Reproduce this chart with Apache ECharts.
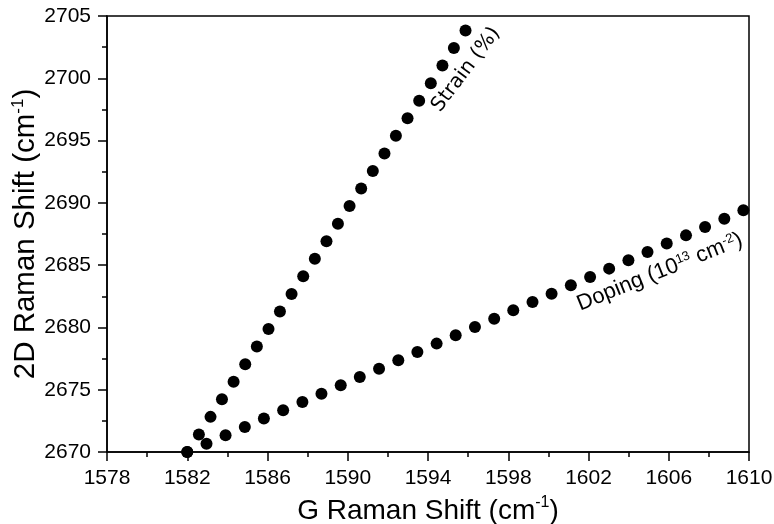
<!DOCTYPE html>
<html><head><meta charset="utf-8">
<script src="https://cdn.jsdelivr.net/npm/echarts@6/dist/echarts.min.js"></script>
<style>html,body{margin:0;padding:0;background:#fff}#c{width:774px;height:524px}</style>
</head><body><div id="c"></div>
<script>
// G Raman shift (cm-1) and 2D Raman shift (cm-1) of the strain line
const strainG = [1582.00,1582.58,1583.16,1583.73,1584.31,1584.89,1585.47,1586.05,1586.62,1587.20,1587.78,1588.36,1588.94,1589.51,1590.09,1590.67,1591.25,1591.83,1592.40,1592.98,1593.56,1594.14,1594.72,1595.29,1595.87];
const strain2D = [2670.00,2671.41,2672.82,2674.23,2675.64,2677.05,2678.46,2679.87,2681.28,2682.69,2684.10,2685.51,2686.92,2688.33,2689.74,2691.15,2692.56,2693.97,2695.38,2696.79,2698.20,2699.61,2701.02,2702.43,2703.84];
// doping line
const dopingG = [1582.00,1582.96,1583.91,1584.87,1585.82,1586.78,1587.74,1588.69,1589.65,1590.60,1591.56,1592.52,1593.47,1594.43,1595.38,1596.34,1597.30,1598.25,1599.21,1600.16,1601.12,1602.08,1603.03,1603.99,1604.94,1605.90,1606.86,1607.81,1608.77,1609.72];
const doping2D = [2670.00,2670.67,2671.34,2672.01,2672.68,2673.35,2674.01,2674.68,2675.35,2676.02,2676.69,2677.36,2678.03,2678.70,2679.37,2680.04,2680.70,2681.37,2682.04,2682.71,2683.38,2684.05,2684.72,2685.39,2686.06,2686.73,2687.39,2688.06,2688.73,2689.40];
// tick labels
const xTicks = [1578,1582,1586,1590,1594,1598,1602,1606,1610];
const yTicks = [2670,2675,2680,2685,2690,2695,2700,2705];
// annotation anchors (data coordinates)
const strainLabel = {text: 'Strain (%)', at: [1595.9, 2700.7], angle: 53};
const dopingLabel = {text: 'Doping (10{sup|13} cm{sup|-2})', at: [1605.55, 2684.45], angle: 22};

const FONT = '"Liberation Sans", Arial, sans-serif';
const chart = echarts.init(document.getElementById('c'), null, {renderer: 'canvas'});
const sup = {fontSize: 16, verticalAlign: 'top', lineHeight: 16, fontFamily: FONT, color: '#000'};

function axisCommon(ticks, margin) {
  return {
    min: ticks[0], max: ticks[ticks.length - 1], interval: ticks[1] - ticks[0],
    axisLine: {show: true, lineStyle: {color: '#000', width: 1.5}},
    axisTick: {show: true, inside: false, length: 9, lineStyle: {color: '#000', width: 1.5}},
    minorTick: {show: true, splitNumber: 2, length: 5, lineStyle: {color: '#000', width: 1.5}},
    splitLine: {show: false},
    nameMoveOverlap: false,
    axisLabel: {color: '#000', fontSize: 21, fontFamily: FONT, margin: margin, formatter: v => String(v)}
  };
}

chart.setOption({
  animation: false,
  backgroundColor: '#fff',
  grid: {left: 107, right: 25, top: 16, bottom: 72, show: true, borderColor: '#000', borderWidth: 1.5,
         containLabel: false, outerBoundsMode: 'none'},
  xAxis: Object.assign(axisCommon(xTicks, 16), {
    type: 'value',
    name: 'G Raman Shift (cm{sup|-1})',
    nameLocation: 'middle', nameGap: 43,
    nameTextStyle: {color: '#000', fontSize: 28, fontFamily: FONT, lineHeight: 32, rich: {sup: sup}}
  }),
  yAxis: Object.assign(axisCommon(yTicks, 16), {
    type: 'value',
    name: '2D Raman Shift (cm{sup|-1})',
    nameLocation: 'middle', nameGap: 65, nameRotate: 90,
    nameTextStyle: {color: '#000', fontSize: 29.5, fontFamily: FONT, lineHeight: 32, rich: {sup: Object.assign({}, sup, {fontSize: 17, lineHeight: 17})}}
  }),
  series: [
    {type: 'scatter', name: 'Strain', symbol: 'circle', symbolSize: 12, clip: false,
     itemStyle: {color: '#000', opacity: 1}, data: strainG.map((g, i) => [g, strain2D[i]])},
    {type: 'scatter', name: 'Doping', symbol: 'circle', symbolSize: 12, clip: false,
     itemStyle: {color: '#000', opacity: 1}, data: dopingG.map((g, i) => [g, doping2D[i]])}
  ]
});

const ps = chart.convertToPixel({gridIndex: 0}, strainLabel.at);
const pd = chart.convertToPixel({gridIndex: 0}, dopingLabel.at);
chart.setOption({
  graphic: [
    {type: 'text', x: ps[0], y: ps[1], rotation: strainLabel.angle * Math.PI / 180,
     style: {text: strainLabel.text, font: '20px "DejaVu Sans", sans-serif', fill: '#000', align: 'center', verticalAlign: 'middle'}},
    {type: 'text', x: pd[0], y: pd[1], rotation: dopingLabel.angle * Math.PI / 180,
     style: {text: dopingLabel.text, fontSize: 22, fontFamily: FONT, fill: '#000', align: 'center', verticalAlign: 'middle',
       rich: {sup: {fontSize: 13, verticalAlign: 'top', lineHeight: 13, fontFamily: FONT, fill: '#000'}}}}
  ]
});
</script></body></html>
